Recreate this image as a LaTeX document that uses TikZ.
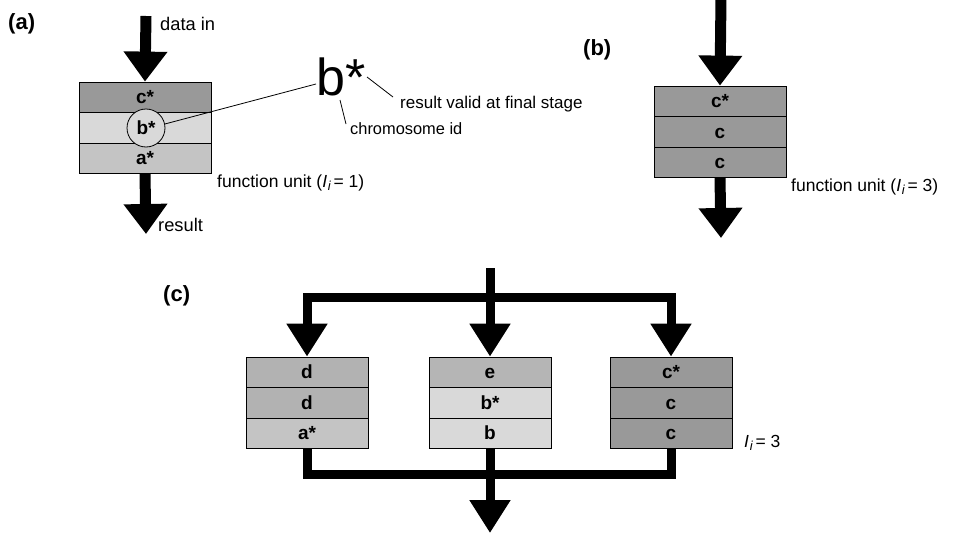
\documentclass[tikz,border=0pt]{standalone}
\usepackage{fontspec}
\setmainfont{Liberation Sans}
\usetikzlibrary{arrows.meta}

% stage shades
\definecolor{shC}{gray}{0.60}
\definecolor{shD}{gray}{0.70}
\definecolor{shA}{gray}{0.77}
\definecolor{shE}{gray}{0.71}
\definecolor{shB}{gray}{0.85}

% latency symbol I_i
\newcommand{\Ii}{\textit{I}\kern0.8pt\raisebox{-0.35ex}{\fontsize{13}{13}\selectfont\textit{i}}\kern2.5pt}

\begin{document}
\begin{tikzpicture}[x=1pt,y=-1pt,
  txt/.style={inner sep=0pt, font=\fontsize{17.5}{20}\selectfont},
  panel/.style={inner sep=0pt, font=\fontsize{22}{24}\selectfont\bfseries},
  stage/.style={draw, line width=0.8pt, minimum width=132pt, minimum height=30.5pt,
    inner sep=0pt, text height=13pt, text depth=0pt,
    font=\fontsize{19}{21}\selectfont\bfseries},
  narrow/.style={minimum width=122pt},
  fat/.style={line width=11pt, line join=miter},
  slim/.style={line width=9pt, line join=miter},
  tipA/.style={-{Triangle[width=42pt,length=30pt]}},
  tipC/.style={-{Triangle[width=39pt,length=33pt]}},
  lead/.style={line width=0.8pt}]

\useasboundingbox (0,0) rectangle (956,533);

% ---------- (a) single function unit ----------
\node[panel, anchor=base west] (pa) at (8,29) {(a)};
\node[stage, fill=shC] (a1) at (145,97.25) {c*};
\node[stage, fill=shB] (a2) at (145,127.75) {};
\node[stage, fill=shA] (a3) at (145,158.25) {a*};
\node[circle, draw, line width=0.8pt, fill=shB, minimum size=38pt, inner sep=0pt,
      text height=13pt, text depth=0pt,
      font=\fontsize{19}{21}\selectfont\bfseries] (focus) at (146,128) {b*};

\coordinate (ain) at (146,16);
\coordinate (aout) at (146,234);
\draw[fat,tipA] (ain) -- (a1.north);
\draw[fat,tipA] (a3.south) -- (aout);

\node[txt, anchor=base west, font=\fontsize{18.3}{20}\selectfont] (din) at (160,30) {data in};
\node[txt, anchor=base west, font=\fontsize{18.3}{20}\selectfont] (res) at (158,231) {result};
\node[txt, anchor=base west] (fu1) at (217,187) {function unit (\Ii= 1)};

% enlarged chromosome tag with its two leaders
\node[inner sep=0pt, anchor=base west, font=\fontsize{52}{54}\selectfont] (bigb) at (316,95) {b*};
\node[txt, anchor=base west, font=\fontsize{17}{19}\selectfont] (rv) at (400,108) {result valid at final stage};
\node[txt, anchor=base west, font=\fontsize{16.4}{19}\selectfont] (cid) at (350,134) {chromosome id};
\coordinate (bL) at (316,84);
\coordinate (bS) at (367,77);
\coordinate (rvL) at (393,97);
\coordinate (bB) at (340,100);
\coordinate (cidL) at (346,124);
\draw[lead] (focus.12) -- (bL);
\draw[lead] (bS) -- (rvL);
\draw[lead] (bB) -- (cidL);

% ---------- (b) three-stage unit ----------
\node[panel, anchor=base west] (pb) at (583,55) {(b)};
\node[stage, fill=shC] (b1) at (720,101.25) {c*};
\node[stage, fill=shC] (b2) at (720,131.75) {c};
\node[stage, fill=shC] (b3) at (720,162.25) {c};
\coordinate (bin) at (721,-2);
\coordinate (bout) at (721,238);
\draw[fat,tipA] (bin) -- (b1.north);
\draw[fat,tipA] (b3.south) -- (bout);
\node[txt, anchor=base west] (fu3) at (791,191) {function unit (\Ii= 3)};

% ---------- (c) three parallel units ----------
\node[panel, anchor=base west] (pc) at (163,301) {(c)};

\node[stage, narrow, fill=shD] (l1) at (307,372.25) {d};
\node[stage, narrow, fill=shD] (l2) at (307,402.75) {d};
\node[stage, narrow, fill=shA] (l3) at (307,433.25) {a*};

\node[stage, narrow, fill=shE] (m1) at (490,372.25) {e};
\node[stage, narrow, fill=shB] (m2) at (490,402.75) {b*};
\node[stage, narrow, fill=shB] (m3) at (490,433.25) {b};

\node[stage, narrow, fill=shC] (r1) at (671,372.25) {c*};
\node[stage, narrow, fill=shC] (r2) at (671,402.75) {c};
\node[stage, narrow, fill=shC] (r3) at (671,433.25) {c};

\node[txt, anchor=base west] (lat) at (744,447) {\Ii= 3};

\coordinate (cin) at (490,268);
\coordinate (jt) at (490,297);
\coordinate (jb) at (490,474);
\coordinate (cout) at (490,533);
\draw[slim,tipC] (cin) -- (m1.north);
\draw[slim,tipC] (jt) -| (l1.north);
\draw[slim,tipC] (jt) -| (r1.north);
\draw[slim] (l3.south) |- (jb);
\draw[slim] (r3.south) |- (jb);
\draw[slim,tipC] (m3.south) -- (cout);
\end{tikzpicture}
\end{document}
